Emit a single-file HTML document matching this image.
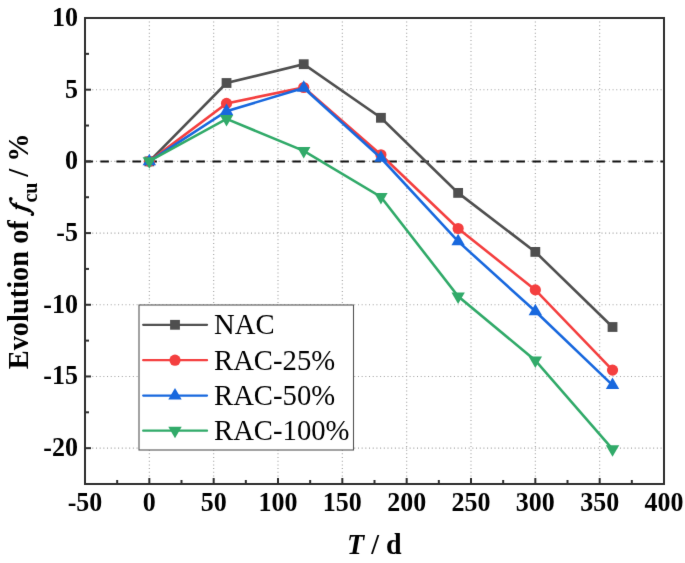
<!DOCTYPE html><html><head><meta charset="utf-8"><style>html,body{margin:0;padding:0;background:#fff;}svg{display:block;}text{font-family:"Liberation Serif",serif;}</style></head><body>
<svg width="685" height="563" viewBox="0 0 685 563">
<defs><filter id="soft" x="0" y="0" width="685" height="563" filterUnits="userSpaceOnUse" color-interpolation-filters="sRGB"><feConvolveMatrix order="3" kernelMatrix="0.00524 0.06192 0.00524 0.06192 0.73137 0.06192 0.00524 0.06192 0.00524" edgeMode="duplicate"/></filter></defs>
<g filter="url(#soft)"><rect width="685" height="563" fill="#fff"/>
<g stroke="#a0a0a0" stroke-width="1.1" stroke-dasharray="1.0 2.69" fill="none"><line x1="149.33" y1="17.9" x2="149.33" y2="483.00"/><line x1="213.67" y1="17.9" x2="213.67" y2="483.00"/><line x1="278.00" y1="17.9" x2="278.00" y2="483.00"/><line x1="342.33" y1="17.9" x2="342.33" y2="483.00"/><line x1="406.67" y1="17.9" x2="406.67" y2="483.00"/><line x1="471.00" y1="17.9" x2="471.00" y2="483.00"/><line x1="535.33" y1="17.9" x2="535.33" y2="483.00"/><line x1="599.67" y1="17.9" x2="599.67" y2="483.00"/><line x1="84.9" y1="89.69" x2="663.00" y2="89.69"/><line x1="84.9" y1="161.38" x2="663.00" y2="161.38"/><line x1="84.9" y1="233.08" x2="663.00" y2="233.08"/><line x1="84.9" y1="304.77" x2="663.00" y2="304.77"/><line x1="84.9" y1="376.46" x2="663.00" y2="376.46"/><line x1="84.9" y1="448.15" x2="663.00" y2="448.15"/></g>
<line x1="84.4" y1="161.38" x2="664.0" y2="161.38" stroke="#111" stroke-width="2" stroke-dasharray="8.5 7.5"/>
<polyline points="149.33,161.40 226.53,83.00 303.73,64.20 380.93,117.80 458.13,192.90 535.33,251.90 612.53,327.00" fill="none" stroke="#4f4f4f" stroke-width="2.6" stroke-linejoin="miter"/>
<rect x="144.43" y="156.50" width="9.8" height="9.8" fill="#4f4f4f"/>
<rect x="221.63" y="78.10" width="9.8" height="9.8" fill="#4f4f4f"/>
<rect x="298.83" y="59.30" width="9.8" height="9.8" fill="#4f4f4f"/>
<rect x="376.03" y="112.90" width="9.8" height="9.8" fill="#4f4f4f"/>
<rect x="453.23" y="188.00" width="9.8" height="9.8" fill="#4f4f4f"/>
<rect x="530.43" y="247.00" width="9.8" height="9.8" fill="#4f4f4f"/>
<rect x="607.63" y="322.10" width="9.8" height="9.8" fill="#4f4f4f"/>
<polyline points="149.33,161.40 226.53,103.40 303.73,87.50 380.93,154.80 458.13,228.50 535.33,289.90 612.53,370.10" fill="none" stroke="#f43f3f" stroke-width="2.6" stroke-linejoin="miter"/>
<circle cx="149.33" cy="161.40" r="5.6" fill="#f43f3f"/>
<circle cx="226.53" cy="103.40" r="5.6" fill="#f43f3f"/>
<circle cx="303.73" cy="87.50" r="5.6" fill="#f43f3f"/>
<circle cx="380.93" cy="154.80" r="5.6" fill="#f43f3f"/>
<circle cx="458.13" cy="228.50" r="5.6" fill="#f43f3f"/>
<circle cx="535.33" cy="289.90" r="5.6" fill="#f43f3f"/>
<circle cx="612.53" cy="370.10" r="5.6" fill="#f43f3f"/>
<polyline points="149.33,161.40 226.53,111.20 303.73,88.00 380.93,158.00 458.13,241.40 535.33,311.30 612.53,385.10" fill="none" stroke="#1868de" stroke-width="2.6" stroke-linejoin="miter"/>
<path d="M149.33,153.73L156.03,165.23L142.63,165.23Z" fill="#1868de"/>
<path d="M226.53,103.53L233.23,115.03L219.83,115.03Z" fill="#1868de"/>
<path d="M303.73,80.33L310.43,91.83L297.03,91.83Z" fill="#1868de"/>
<path d="M380.93,150.33L387.63,161.83L374.23,161.83Z" fill="#1868de"/>
<path d="M458.13,233.73L464.83,245.23L451.43,245.23Z" fill="#1868de"/>
<path d="M535.33,303.63L542.03,315.13L528.63,315.13Z" fill="#1868de"/>
<path d="M612.53,377.43L619.23,388.93L605.83,388.93Z" fill="#1868de"/>
<polyline points="149.33,161.10 226.53,118.90 303.73,150.80 380.93,196.90 458.13,296.30 535.33,360.40 612.53,449.10" fill="none" stroke="#31aa69" stroke-width="2.6" stroke-linejoin="miter"/>
<path d="M149.33,168.77L156.03,157.27L142.63,157.27Z" fill="#31aa69"/>
<path d="M226.53,126.57L233.23,115.07L219.83,115.07Z" fill="#31aa69"/>
<path d="M303.73,158.47L310.43,146.97L297.03,146.97Z" fill="#31aa69"/>
<path d="M380.93,204.57L387.63,193.07L374.23,193.07Z" fill="#31aa69"/>
<path d="M458.13,303.97L464.83,292.47L451.43,292.47Z" fill="#31aa69"/>
<path d="M535.33,368.07L542.03,356.57L528.63,356.57Z" fill="#31aa69"/>
<path d="M612.53,456.77L619.23,445.27L605.83,445.27Z" fill="#31aa69"/>
<rect x="85.0" y="18.0" width="579.0" height="466.0" fill="none" stroke="#2e2e2e" stroke-width="2"/>
<g stroke="#2e2e2e" stroke-width="2"><line x1="85.00" y1="484.0" x2="85.00" y2="478.0"/><line x1="149.33" y1="484.0" x2="149.33" y2="478.0"/><line x1="213.67" y1="484.0" x2="213.67" y2="478.0"/><line x1="278.00" y1="484.0" x2="278.00" y2="478.0"/><line x1="342.33" y1="484.0" x2="342.33" y2="478.0"/><line x1="406.67" y1="484.0" x2="406.67" y2="478.0"/><line x1="471.00" y1="484.0" x2="471.00" y2="478.0"/><line x1="535.33" y1="484.0" x2="535.33" y2="478.0"/><line x1="599.67" y1="484.0" x2="599.67" y2="478.0"/><line x1="664.00" y1="484.0" x2="664.00" y2="478.0"/><line x1="117.17" y1="484.0" x2="117.17" y2="480.0"/><line x1="181.50" y1="484.0" x2="181.50" y2="480.0"/><line x1="245.83" y1="484.0" x2="245.83" y2="480.0"/><line x1="310.17" y1="484.0" x2="310.17" y2="480.0"/><line x1="374.50" y1="484.0" x2="374.50" y2="480.0"/><line x1="438.83" y1="484.0" x2="438.83" y2="480.0"/><line x1="503.17" y1="484.0" x2="503.17" y2="480.0"/><line x1="567.50" y1="484.0" x2="567.50" y2="480.0"/><line x1="631.83" y1="484.0" x2="631.83" y2="480.0"/><line x1="85.0" y1="18.00" x2="91.0" y2="18.00"/><line x1="85.0" y1="89.69" x2="91.0" y2="89.69"/><line x1="85.0" y1="161.38" x2="91.0" y2="161.38"/><line x1="85.0" y1="233.08" x2="91.0" y2="233.08"/><line x1="85.0" y1="304.77" x2="91.0" y2="304.77"/><line x1="85.0" y1="376.46" x2="91.0" y2="376.46"/><line x1="85.0" y1="448.15" x2="91.0" y2="448.15"/><line x1="85.0" y1="53.85" x2="89.0" y2="53.85"/><line x1="85.0" y1="125.54" x2="89.0" y2="125.54"/><line x1="85.0" y1="197.23" x2="89.0" y2="197.23"/><line x1="85.0" y1="268.92" x2="89.0" y2="268.92"/><line x1="85.0" y1="340.62" x2="89.0" y2="340.62"/><line x1="85.0" y1="412.31" x2="89.0" y2="412.31"/><line x1="85.0" y1="484.00" x2="89.0" y2="484.00"/></g>
<g font-size="26" font-weight="bold" fill="#000"><text transform="translate(78,25.90) scale(1,1.045)" text-anchor="end">10</text><text transform="translate(78,97.59) scale(1,1.045)" text-anchor="end">5</text><text transform="translate(78,169.28) scale(1,1.045)" text-anchor="end">0</text><text transform="translate(78,240.98) scale(1,1.045)" text-anchor="end">-5</text><text transform="translate(78,312.67) scale(1,1.045)" text-anchor="end">-10</text><text transform="translate(78,384.36) scale(1,1.045)" text-anchor="end">-15</text><text transform="translate(78,456.05) scale(1,1.045)" text-anchor="end">-20</text><text transform="translate(85.00,510.8) scale(1,1.045)" text-anchor="middle">-50</text><text transform="translate(149.33,510.8) scale(1,1.045)" text-anchor="middle">0</text><text transform="translate(213.67,510.8) scale(1,1.045)" text-anchor="middle">50</text><text transform="translate(278.00,510.8) scale(1,1.045)" text-anchor="middle">100</text><text transform="translate(342.33,510.8) scale(1,1.045)" text-anchor="middle">150</text><text transform="translate(406.67,510.8) scale(1,1.045)" text-anchor="middle">200</text><text transform="translate(471.00,510.8) scale(1,1.045)" text-anchor="middle">250</text><text transform="translate(535.33,510.8) scale(1,1.045)" text-anchor="middle">300</text><text transform="translate(599.67,510.8) scale(1,1.045)" text-anchor="middle">350</text><text transform="translate(664.00,510.8) scale(1,1.045)" text-anchor="middle">400</text></g>
<text transform="translate(374.3,554.4) scale(1,1.02)" text-anchor="middle" font-size="28" font-weight="bold"><tspan font-style="italic">T</tspan> / d</text>
<g transform="translate(28,0) rotate(-90) scale(1,1.04)" font-weight="bold"><text x="-369.3" font-size="28.4">Evolution of</text><text x="-202.6" y="8.3" font-size="20">cu</text><text x="-176.8" font-size="28.4">/ %</text></g>
<g fill="none" stroke="#000" stroke-linecap="round"><path d="M10.5,199.6 C9.9,201.5 11,203.2 13.5,204.6 C17,206.5 22,207.8 27,209.6 C30,210.7 32.5,211.8 33.1,213.2 C33.4,214 33,214.5 32.4,214.7" stroke-width="1.9"/><path d="M13.8,204.8 C17,206.5 22,207.8 27,209.6 C28,210 29,210.4 29.6,210.7" stroke-width="3.2"/><line x1="16.3" y1="202.3" x2="16.3" y2="209.2" stroke-width="1.6" stroke-linecap="butt"/></g><circle cx="10.8" cy="198.8" r="1.85"/><circle cx="32.3" cy="214.5" r="1.6"/>
<rect x="139" y="305" width="214.5" height="145" fill="#fff" stroke="#555" stroke-width="1.1"/>
<line x1="143.2" y1="324.8" x2="207" y2="324.8" stroke="#4f4f4f" stroke-width="2.3" stroke-linecap="round"/>
<rect x="170.10" y="319.90" width="9.8" height="9.8" fill="#4f4f4f"/>
<text transform="translate(214,334.20) scale(1,1.03)" font-size="28.7" fill="#000">NAC</text>
<line x1="143.2" y1="360.2" x2="207" y2="360.2" stroke="#f43f3f" stroke-width="2.3" stroke-linecap="round"/>
<circle cx="175.00" cy="360.20" r="5.6" fill="#f43f3f"/>
<text transform="translate(214,369.60) scale(1,1.03)" font-size="28.7" fill="#000">RAC-25%</text>
<line x1="143.2" y1="395.6" x2="207" y2="395.6" stroke="#1868de" stroke-width="2.3" stroke-linecap="round"/>
<path d="M175.00,387.93L181.70,399.43L168.30,399.43Z" fill="#1868de"/>
<text transform="translate(214,405.00) scale(1,1.03)" font-size="28.7" fill="#000">RAC-50%</text>
<line x1="143.2" y1="430.7" x2="207" y2="430.7" stroke="#31aa69" stroke-width="2.3" stroke-linecap="round"/>
<path d="M175.00,438.37L181.70,426.87L168.30,426.87Z" fill="#31aa69"/>
<text transform="translate(214,440.10) scale(1,1.03)" font-size="28.7" fill="#000">RAC-100%</text>
</g></svg></body></html>
